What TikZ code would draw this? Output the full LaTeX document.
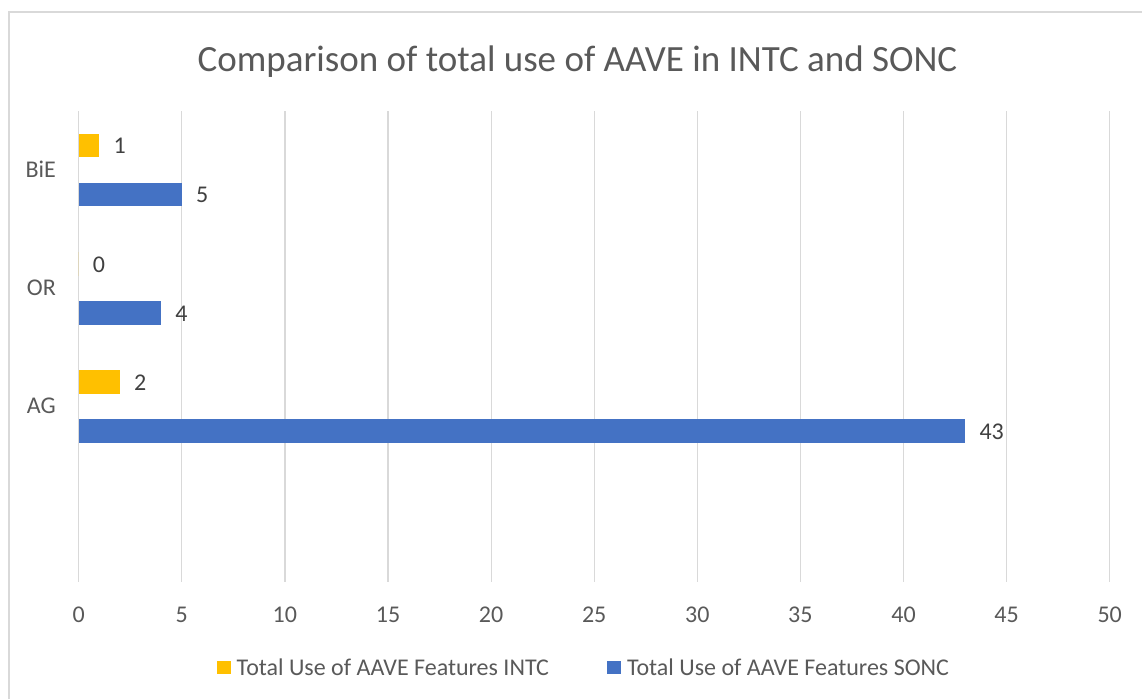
\documentclass[tikz,border=0pt]{standalone}
\usepackage{fontspec}
\setmainfont{Carlito}
\usetikzlibrary{positioning}
\definecolor{intc}{HTML}{FFC000}
\definecolor{sonc}{HTML}{4472C4}
\definecolor{gridgray}{HTML}{D9D9D9}
\definecolor{axistext}{HTML}{595959}
\definecolor{valtext}{HTML}{404040}

\begin{document}
\begin{tikzpicture}[x=1pt,y=-1pt,
  grid/.style={gridgray,line width=1.2pt},
  lbl/.style={text=axistext,font=\fontsize{24}{28}\selectfont,inner sep=0pt},
  val/.style={text=valtext,font=\fontsize{24}{28}\selectfont,inner sep=0pt,anchor=west,xshift=14pt},
]
  \useasboundingbox (0,0) rectangle (1142,699);
  \draw[gridgray,line width=1.3pt] (9,699) -- (9,12) -- (1142,12);
  \node[lbl,font=\fontsize{37}{42}\selectfont,anchor=base] (title) at (577.5,71) {Comparison of total use of AAVE in INTC and SONC};

  \begin{scope}[shift={(78.7,0)},x=20.62pt]
    \foreach \v in {0,5,...,50} {
      \draw[grid] (\v,111) -- (\v,582);
      \node[lbl,anchor=base] (tick\v) at (\v,622.5) {\v};
    }
    \foreach \cat/\yc/\a/\b in {BiE/170/1/5,OR/288.5/0/4,AG/406.5/2/43} {
      \node[lbl,anchor=base east,xshift=-22.7pt] (cat\cat) at (0,\yc+7.2) {\cat};
      \fill[intc] (0,\yc-36.3) rectangle (\a,\yc-12.7);
      \fill[sonc] (0,\yc+12.7) rectangle (\b,\yc+36.3);
      \node[val] (intc\cat) at (\a,\yc-24) {\a};
      \node[val] (sonc\cat) at (\b,\yc+25) {\b};
    }
  \end{scope}

  \fill[intc] (217.3,661) rectangle (230.7,674.3);
  \node[lbl,anchor=base west] (legintc) at (236.5,675) {Total Use of AAVE Features INTC};
  \fill[sonc] (607.3,661) rectangle (620.7,674.3);
  \node[lbl,anchor=base west] (legsonc) at (626.8,675) {Total Use of AAVE Features SONC};
\end{tikzpicture}
\end{document}
